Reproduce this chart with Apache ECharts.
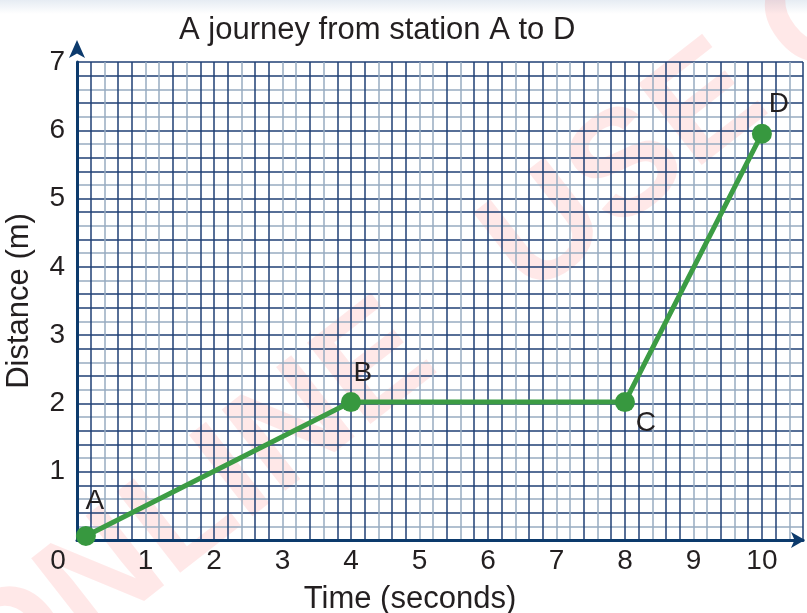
<!DOCTYPE html>
<html>
<head>
<meta charset="utf-8">
<script src="https://cdn.jsdelivr.net/npm/echarts@6/dist/echarts.min.js"></script>
<style>
html,body{margin:0;padding:0;background:#fff;}
#chart{width:807px;height:613px;}
</style>
</head>
<body>
<div id="chart"></div>
<script>
// ---- data ----
var titleText = 'A journey from station A to D';
var xAxisName = 'Time (seconds)';
var yAxisName = 'Distance (m)';
var stationNames = ['A', 'B', 'C', 'D'];
var timeValues = [0.13, 4, 8, 10];
var distanceValues = [0.06, 2.02, 2.02, 5.95];
var xTickLabels = ['0','1','2','3','4','5','6','7','8','9','10'];
var yTickLabels = ['0','1','2','3','4','5','6','7'];
var watermarkWords = ['ONLINE', 'USE ONLY'];

// label offsets (style only)
var labelOffsets = [[9, -35], [12, -29], [21, 21], [17, -29]];

var chart = echarts.init(document.getElementById('chart'), null, {renderer: 'canvas'});

var DARK = '#1f3f74';
var LIGHT = '#97abc0';
var gridColorsX = [DARK, DARK, LIGHT, DARK, DARK, LIGHT, LIGHT, DARK, LIGHT, DARK];
var gridColorsY = [DARK, LIGHT, DARK, LIGHT, DARK, DARK, LIGHT, DARK, DARK, LIGHT];
var FONT = '"Liberation Sans", Arial, sans-serif';
var TXT = '#231f20';
var WM_ROT = 38 * Math.PI / 180;
var WM_FONT = 'bold 150px "Liberation Sans", Arial, sans-serif';
var WM_FILL = 'rgba(255,0,0,0.09)';

var seriesData = timeValues.map(function (t, i) {
  return {
    value: [t, distanceValues[i]],
    name: stationNames[i],
    label: {
      show: true,
      position: 'inside',
      offset: labelOffsets[i],
      formatter: stationNames[i],
      fontSize: 28,
      fontFamily: FONT,
      color: TXT
    }
  };
});

var option = {
  backgroundColor: '#ffffff',
  animation: false,
  title: {
    text: titleText,
    left: 174,
    top: 10,
    textStyle: {fontSize: 31, fontWeight: 'normal', fontFamily: FONT, color: TXT}
  },
  graphic: [
    {
      type: 'rect', z: -20, silent: true,
      shape: {x: 0, y: 0, width: 807, height: 14},
      style: {fill: new echarts.graphic.LinearGradient(0, 0, 0, 1, [
        {offset: 0, color: '#e6ecf3'}, {offset: 1, color: '#ffffff'}])}
    },
    {
      type: 'text', z: -10, silent: true,
      x: 416, y: 336, rotation: WM_ROT,
      style: {text: watermarkWords[0], font: WM_FONT, fill: WM_FILL,
        textAlign: 'right', textVerticalAlign: 'middle'}
    },
    {
      type: 'text', z: -10, silent: true,
      x: 504, y: 267, rotation: WM_ROT,
      style: {text: watermarkWords[1], font: WM_FONT, fill: WM_FILL,
        textAlign: 'left', textVerticalAlign: 'middle'}
    }
  ],
  grid: {left: 77, top: 62, right: 4, bottom: 73, containLabel: false, outerBoundsMode: 'none'},
  xAxis: [
    {
      type: 'value', min: 0, max: 10.6, interval: 1, z: 3,
      name: xAxisName, nameLocation: 'middle', nameGap: 44,
      nameTextStyle: {fontSize: 31, fontFamily: FONT, color: TXT, padding: [0, 60, 0, 0]},
      axisLine: {show: true, lineStyle: {color: '#0c3a6c', width: 3},
        symbol: ['none', 'arrow'], symbolSize: [12, 14], symbolOffset: [0, 2]},
      axisTick: {show: false},
      splitLine: {show: false},
      axisLabel: {
        margin: 7, fontSize: 28, fontFamily: FONT, color: TXT,
        showMaxLabel: false,
        formatter: function (v) {
          if (Math.abs(v - Math.round(v)) > 1e-6) return '';
          var s = xTickLabels[Math.round(v)];
          if (s === undefined) return '';
          if (Math.round(v) === 0) return '{z|' + s + '}';
          return s;
        },
        rich: {z: {fontSize: 28, fontFamily: FONT, color: TXT, padding: [0, 38, 0, 0]}}
      }
    },
    {
      type: 'value', min: 0, max: 10.6, interval: 0.2, z: 1,
      axisLine: {show: false}, axisTick: {show: false}, axisLabel: {show: false},
      splitLine: {show: true, lineStyle: {color: gridColorsX, width: 1.5}}
    }
  ],
  yAxis: [
    {
      type: 'value', min: 0, max: 7, interval: 1, z: 3,
      name: yAxisName, nameLocation: 'middle', nameGap: 42,
      nameTextStyle: {fontSize: 31, fontFamily: FONT, color: TXT},
      axisLine: {show: true, lineStyle: {color: '#0c3a6c', width: 3},
        symbol: ['none', 'arrow'], symbolSize: [12, 18], symbolOffset: [0, 22]},
      axisTick: {show: false},
      splitLine: {show: false},
      axisLabel: {
        margin: 12, fontSize: 28, fontFamily: FONT, color: TXT,
        formatter: function (v) {
          if (Math.round(v) === 0) return '';
          return yTickLabels[Math.round(v)];
        }
      }
    },
    {
      type: 'value', min: 0, max: 7, interval: 0.2, z: 1,
      axisLine: {show: false}, axisTick: {show: false}, axisLabel: {show: false},
      splitLine: {show: true, lineStyle: {color: gridColorsY, width: 1.5}}
    }
  ],
  series: [
    {
      type: 'line',
      xAxisIndex: 0, yAxisIndex: 0,
      data: seriesData,
      symbol: 'circle',
      symbolSize: 20,
      lineStyle: {color: '#3c9c44', width: 5},
      itemStyle: {color: '#37983f'},
      z: 5
    }
  ]
};
chart.setOption(option);
</script>
</body>
</html>
